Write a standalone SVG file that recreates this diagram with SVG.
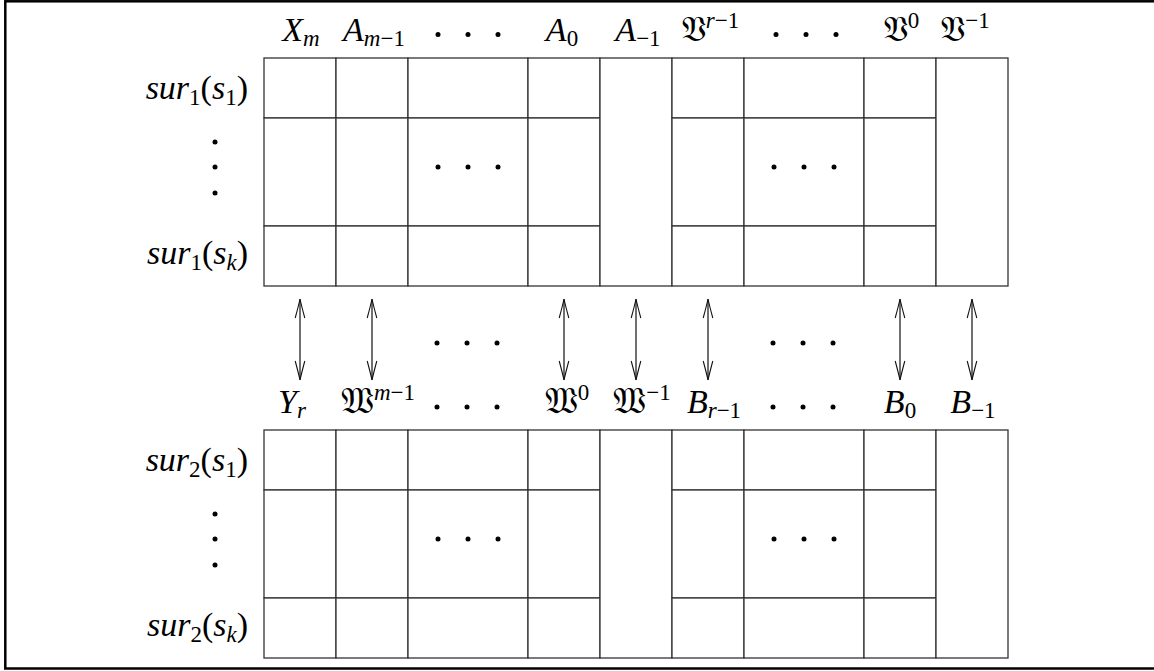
<svg xmlns="http://www.w3.org/2000/svg" width="1154" height="671" viewBox="0 0 1154 671">
<style>
text{font-family:"Liberation Serif","DejaVu Serif",serif;font-size:34px;fill:#000}
.i{font-style:italic}
.lbl{text-anchor:middle}
.row{text-anchor:end}
.cell{fill:#fff;stroke:#333;stroke-width:1.3}
.dot{fill:#000}
.conn line{stroke:#111;stroke-width:1.2}
.frak{font-family:"DejaVu Serif","DejaVu Sans","Noto Sans",serif;font-style:normal;font-size:36px}
</style>
<defs>
<marker id="head" viewBox="-21 -6 23 12" refX="0" refY="0" markerWidth="23" markerHeight="12" markerUnits="userSpaceOnUse" orient="auto-start-reverse">
<path d="M-19,-4.8 Q-6,-1.3 0,0 Q-6,1.3 -19,4.8" fill="none" stroke="#111" stroke-width="1.1"/>
</marker>
<g id="dots3"><circle cx="-30" cy="0" r="2.5"/><circle cx="0" cy="0" r="2.5"/><circle cx="30" cy="0" r="2.5"/></g>
</defs>
<rect x="5.3" y="1.3" width="1160" height="667.2" fill="#fff" stroke="#000" stroke-width="2.5"/>

<g id="table1">
<rect class="cell" x="264" y="58" width="72" height="60"/><rect class="cell" x="264" y="118" width="72" height="108"/><rect class="cell" x="264" y="226" width="72" height="60"/>
<rect class="cell" x="336" y="58" width="72" height="60"/><rect class="cell" x="336" y="118" width="72" height="108"/><rect class="cell" x="336" y="226" width="72" height="60"/>
<rect class="cell" x="408" y="58" width="120" height="60"/><rect class="cell" x="408" y="118" width="120" height="108"/><rect class="cell" x="408" y="226" width="120" height="60"/>
<rect class="cell" x="528" y="58" width="72" height="60"/><rect class="cell" x="528" y="118" width="72" height="108"/><rect class="cell" x="528" y="226" width="72" height="60"/>
<rect class="cell" x="600" y="58" width="72" height="228"/>
<rect class="cell" x="672" y="58" width="72" height="60"/><rect class="cell" x="672" y="118" width="72" height="108"/><rect class="cell" x="672" y="226" width="72" height="60"/>
<rect class="cell" x="744" y="58" width="120" height="60"/><rect class="cell" x="744" y="118" width="120" height="108"/><rect class="cell" x="744" y="226" width="120" height="60"/>
<rect class="cell" x="864" y="58" width="72" height="60"/><rect class="cell" x="864" y="118" width="72" height="108"/><rect class="cell" x="864" y="226" width="72" height="60"/>
<rect class="cell" x="936" y="58" width="72" height="228"/>
<use href="#dots3" x="468" y="167"/><use href="#dots3" x="804" y="167"/>
<text class="lbl" x="301" y="41"><tspan class="i">X</tspan><tspan class="i" font-size="23" dy="5">m</tspan></text>
<text class="lbl" x="374" y="41"><tspan class="i">A</tspan><tspan font-size="23" dy="5"><tspan class="i">m</tspan>−1</tspan></text>
<use href="#dots3" x="468" y="34.5"/>
<text class="lbl" x="562" y="41"><tspan class="i">A</tspan><tspan font-size="23" dy="5">0</tspan></text>
<text class="lbl" x="638" y="41"><tspan class="i">A</tspan><tspan font-size="23" dy="5">−1</tspan></text>
<text class="lbl" x="710" y="41"><tspan class="frak">𝔙</tspan><tspan font-size="23" dy="-13"><tspan class="i">r</tspan>−1</tspan></text>
<use href="#dots3" x="806" y="34.5"/>
<text class="lbl" x="901" y="41"><tspan class="frak">𝔙</tspan><tspan font-size="23" dy="-13">0</tspan></text>
<text class="lbl" x="965" y="41"><tspan class="frak">𝔙</tspan><tspan font-size="23" dy="-13">−1</tspan></text>
<text class="row" x="248" y="99"><tspan class="i">sur</tspan><tspan font-size="23" dy="6">1</tspan><tspan dy="-6">(</tspan><tspan class="i">s</tspan><tspan font-size="23" dy="6">1</tspan><tspan dy="-6">)</tspan></text>
<circle class="dot" cx="215" cy="142" r="2.5"/><circle class="dot" cx="215" cy="167" r="2.5"/><circle class="dot" cx="215" cy="193" r="2.5"/>
<text class="row" x="248" y="264"><tspan class="i">sur</tspan><tspan font-size="23" dy="6">1</tspan><tspan dy="-6">(</tspan><tspan class="i">s</tspan><tspan class="i" font-size="23" dy="6">k</tspan><tspan dy="-6">)</tspan></text>
</g>

<g id="table2">
<rect class="cell" x="264" y="430" width="72" height="60"/><rect class="cell" x="264" y="490" width="72" height="108"/><rect class="cell" x="264" y="598" width="72" height="60"/>
<rect class="cell" x="336" y="430" width="72" height="60"/><rect class="cell" x="336" y="490" width="72" height="108"/><rect class="cell" x="336" y="598" width="72" height="60"/>
<rect class="cell" x="408" y="430" width="120" height="60"/><rect class="cell" x="408" y="490" width="120" height="108"/><rect class="cell" x="408" y="598" width="120" height="60"/>
<rect class="cell" x="528" y="430" width="72" height="60"/><rect class="cell" x="528" y="490" width="72" height="108"/><rect class="cell" x="528" y="598" width="72" height="60"/>
<rect class="cell" x="600" y="430" width="72" height="228"/>
<rect class="cell" x="672" y="430" width="72" height="60"/><rect class="cell" x="672" y="490" width="72" height="108"/><rect class="cell" x="672" y="598" width="72" height="60"/>
<rect class="cell" x="744" y="430" width="120" height="60"/><rect class="cell" x="744" y="490" width="120" height="108"/><rect class="cell" x="744" y="598" width="120" height="60"/>
<rect class="cell" x="864" y="430" width="72" height="60"/><rect class="cell" x="864" y="490" width="72" height="108"/><rect class="cell" x="864" y="598" width="72" height="60"/>
<rect class="cell" x="936" y="430" width="72" height="228"/>
<use href="#dots3" x="468" y="539"/><use href="#dots3" x="804" y="539"/>
<text class="lbl" x="292" y="413"><tspan class="i">Y</tspan><tspan class="i" font-size="23" dy="5">r</tspan></text>
<text class="lbl" x="378" y="413"><tspan class="frak">𝔚</tspan><tspan font-size="23" dy="-13"><tspan class="i">m</tspan>−1</tspan></text>
<use href="#dots3" x="467" y="407"/>
<text class="lbl" x="567" y="413"><tspan class="frak">𝔚</tspan><tspan font-size="23" dy="-13">0</tspan></text>
<text class="lbl" x="642" y="413"><tspan class="frak">𝔚</tspan><tspan font-size="23" dy="-13">−1</tspan></text>
<text class="lbl" x="714" y="413"><tspan class="i">B</tspan><tspan font-size="23" dy="5"><tspan class="i">r</tspan>−1</tspan></text>
<use href="#dots3" x="803" y="407"/>
<text class="lbl" x="900" y="413"><tspan class="i">B</tspan><tspan font-size="23" dy="5">0</tspan></text>
<text class="lbl" x="973" y="413"><tspan class="i">B</tspan><tspan font-size="23" dy="5">−1</tspan></text>
<text class="row" x="248" y="471"><tspan class="i">sur</tspan><tspan font-size="23" dy="6">2</tspan><tspan dy="-6">(</tspan><tspan class="i">s</tspan><tspan font-size="23" dy="6">1</tspan><tspan dy="-6">)</tspan></text>
<circle class="dot" cx="215" cy="514" r="2.5"/><circle class="dot" cx="215" cy="539" r="2.5"/><circle class="dot" cx="215" cy="565" r="2.5"/>
<text class="row" x="248" y="636"><tspan class="i">sur</tspan><tspan font-size="23" dy="6">2</tspan><tspan dy="-6">(</tspan><tspan class="i">s</tspan><tspan class="i" font-size="23" dy="6">k</tspan><tspan dy="-6">)</tspan></text>
</g>

<g id="connectors" class="conn">
<line x1="300" y1="299" x2="300" y2="380" marker-start="url(#head)" marker-end="url(#head)"/>
<line x1="372" y1="299" x2="372" y2="380" marker-start="url(#head)" marker-end="url(#head)"/>
<line x1="564" y1="299" x2="564" y2="380" marker-start="url(#head)" marker-end="url(#head)"/>
<line x1="636" y1="299" x2="636" y2="380" marker-start="url(#head)" marker-end="url(#head)"/>
<line x1="708" y1="299" x2="708" y2="380" marker-start="url(#head)" marker-end="url(#head)"/>
<line x1="900" y1="299" x2="900" y2="380" marker-start="url(#head)" marker-end="url(#head)"/>
<line x1="972" y1="299" x2="972" y2="380" marker-start="url(#head)" marker-end="url(#head)"/>
</g>
<g id="mid-dots"><use href="#dots3" x="467" y="343"/><use href="#dots3" x="803" y="343"/></g>
</svg>
